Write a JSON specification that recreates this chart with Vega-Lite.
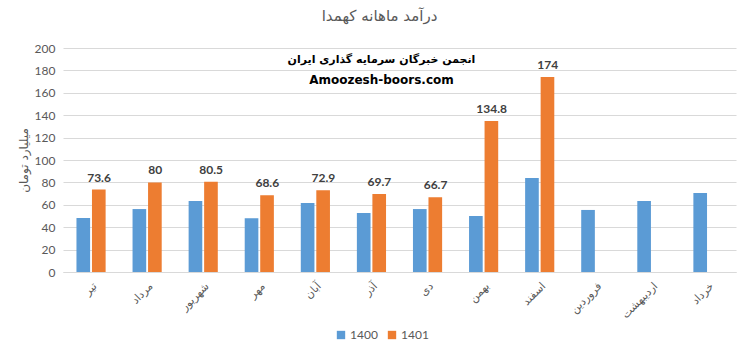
{
  "$schema": "https://vega.github.io/schema/vega-lite/v6.json",
  "width": 673,
  "height": 224,
  "autosize": {"type": "none"},
  "padding": {"left": 63, "top": 48, "right": 14, "bottom": 84},
  "background": "white",
  "title": {
    "text": "درآمد ماهانه کهمدا",
    "fontSize": 15,
    "font": "DejaVu Sans",
    "fontWeight": "normal",
    "color": "#595959",
    "anchor": "middle",
    "offset": 18,
    "dx": -20
  },
  "config": {
    "view": {"stroke": null},
    "font": "Lato",
    "axis": {"labelColor": "#595959", "titleColor": "#595959"},
    "axisY": {"labelOverlap": false, "values": [0, 20, 40, 60, 80, 100, 120, 140, 160, 180, 200]}
  },
  "data": {
    "values": [
      {"month": "تیر", "year": "1400", "value": 48.2},
      {"month": "تیر", "year": "1401", "value": 73.6},
      {"month": "مرداد", "year": "1400", "value": 56.2},
      {"month": "مرداد", "year": "1401", "value": 80},
      {"month": "شهریور", "year": "1400", "value": 63.4},
      {"month": "شهریور", "year": "1401", "value": 80.5},
      {"month": "مهر", "year": "1400", "value": 48},
      {"month": "مهر", "year": "1401", "value": 68.6},
      {"month": "آبان", "year": "1400", "value": 61.6},
      {"month": "آبان", "year": "1401", "value": 72.9},
      {"month": "آذر", "year": "1400", "value": 52.7},
      {"month": "آذر", "year": "1401", "value": 69.7},
      {"month": "دی", "year": "1400", "value": 56.2},
      {"month": "دی", "year": "1401", "value": 66.7},
      {"month": "بهمن", "year": "1400", "value": 50},
      {"month": "بهمن", "year": "1401", "value": 134.8},
      {"month": "اسفند", "year": "1400", "value": 83.9},
      {"month": "اسفند", "year": "1401", "value": 174},
      {"month": "فروردین", "year": "1400", "value": 55.4},
      {"month": "اردیبهشت", "year": "1400", "value": 63.4},
      {"month": "خرداد", "year": "1400", "value": 70.5}
    ]
  },
  "encoding": {
    "x": {
      "field": "month",
      "type": "nominal",
      "sort": ["تیر", "مرداد", "شهریور", "مهر", "آبان", "آذر", "دی", "بهمن", "اسفند", "فروردین", "اردیبهشت", "خرداد"],
      "scale": {"paddingInner": 0.48, "paddingOuter": 0.24},
      "axis": {
        "title": null,
        "labelAngle": -45,
        "labelFont": "DejaVu Sans",
        "labelFontSize": 11,
        "labelPadding": 8,
        "ticks": false,
        "domainColor": "#d9d9d9",
        "domainWidth": 1
      }
    }
  },
  "layer": [
    {
      "mark": {"type": "bar"},
      "encoding": {
        "xOffset": {"field": "year", "type": "nominal", "scale": {"paddingInner": 0.12}},
        "y": {
          "field": "value",
          "type": "quantitative",
          "scale": {"domain": [0, 200], "nice": false},
          "axis": {
            "values": [0, 20, 40, 60, 80, 100, 120, 140, 160, 180, 200],
            "labelOverlap": false,
            "title": "میلیارد تومان",
            "titleFont": "DejaVu Sans",
            "titleFontSize": 12,
            "titleFontWeight": "normal",
            "titlePadding": 4,
            "labelFontSize": 12,
            "labelPadding": 8,
            "ticks": false,
            "domain": false,
            "gridColor": "#d9d9d9"
          }
        },
        "color": {
          "field": "year",
          "type": "nominal",
          "scale": {"domain": ["1400", "1401"], "range": ["#5B9BD5", "#ED7D31"]},
          "legend": {
            "title": null,
            "orient": "none",
            "legendX": 272,
            "legendY": 281,
            "direction": "horizontal",
            "symbolType": "square",
            "symbolSize": 70,
            "symbolStrokeWidth": 0,
            "labelFontSize": 12,
            "labelOffset": 3,
            "labelColor": "#595959",
            "columnPadding": 8
          }
        }
      }
    },
    {
      "transform": [{"filter": "datum.year == '1401'"}],
      "mark": {"type": "text", "dy": -12, "fontWeight": "bold", "fontSize": 12, "color": "#404040", "dx": 8},
      "encoding": {
        "y": {"field": "value", "type": "quantitative", "axis": {"values": [0, 20, 40, 60, 80, 100, 120, 140, 160, 180, 200], "labelOverlap": false}},
        "text": {"field": "value", "type": "quantitative"}
      }
    },
    {
      "data": {"values": [{"month": "آذر", "v": 189, "label": "انجمن خبرگان سرمایه گذاری ایران"}]},
      "mark": {"type": "text", "fontWeight": "bold", "fontSize": 11, "color": "#000000", "font": "DejaVu Sans", "dx": 10},
      "encoding": {
        "y": {"field": "v", "type": "quantitative", "axis": {"values": [0, 20, 40, 60, 80, 100, 120, 140, 160, 180, 200], "labelOverlap": false}},
        "text": {"field": "label", "type": "nominal"}
      }
    },
    {
      "data": {"values": [{"month": "آذر", "v": 171, "label": "Amoozesh-boors.com"}]},
      "mark": {"type": "text", "fontWeight": "bold", "fontSize": 12, "color": "#000000", "font": "DejaVu Sans", "dx": 10},
      "encoding": {
        "y": {"field": "v", "type": "quantitative", "axis": {"values": [0, 20, 40, 60, 80, 100, 120, 140, 160, 180, 200], "labelOverlap": false}},
        "text": {"field": "label", "type": "nominal"}
      }
    }
  ]
}
